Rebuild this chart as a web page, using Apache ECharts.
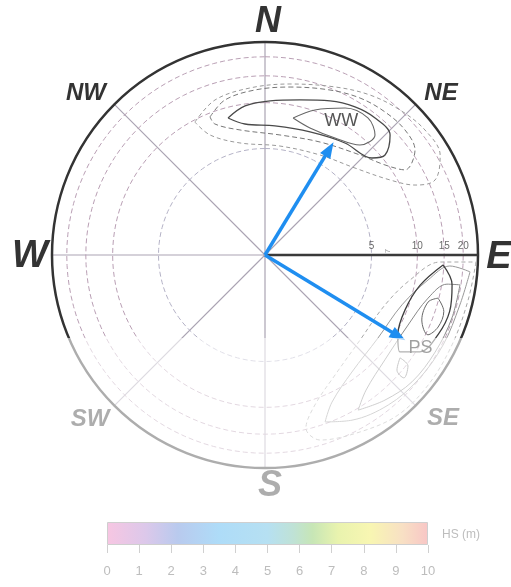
<!DOCTYPE html>
<html>
<head>
<meta charset="utf-8">
<script src="https://cdn.jsdelivr.net/npm/echarts@6/dist/echarts.min.js"></script>
<style>
  html, body { margin: 0; padding: 0; background: #fff; }
  #chart { width: 511px; height: 587px; }
</style>
</head>
<body>
<div id="chart"></div>
<script>
// Period rings (s) and their labels along the east spoke
const ringPeriods = [5, 10, 15, 20];
const ringLabels = ['5', '10', '15', '20'];
const extraLabelPeriod = 7;
const extraLabel = '7';

// Mean direction (deg from N, clockwise) and period (s) of each wave system
const systemNames = ['WW', 'PS'];
const systemDirections = [31.3, 121.3];
const systemPeriods = [6.5, 10.6];

// Spectral energy contours, points as [period (s), direction (deg)]
const wwContour1 = [[8.27, 11.6], [10.16, 19.0], [12.55, 28.6], [13.33, 36.9], [11.71, 42.5], [8.99, 40.8], [7.85, 30.9], [7.66, 19.5], [8.27, 11.6]];
const wwContour2 = [[8.54, 344.9], [9.70, 352.4], [10.27, 1.9], [11.04, 12.7], [12.52, 22.9], [13.71, 31.3], [14.23, 38.8], [13.72, 46.2], [10.60, 50.2], [8.87, 47.8], [8.00, 35.5], [7.24, 20.1], [7.07, 4.4], [7.41, 351.3], [8.54, 344.9]];
const wwContour3 = [[9.45, 338.3], [11.24, 345.5], [12.16, 356.5], [13.02, 8.5], [14.58, 21.5], [16.01, 31.2], [16.80, 40.0], [17.06, 48.2], [15.91, 55.0], [11.89, 58.7], [9.65, 53.1], [8.04, 43.5], [6.68, 26.0], [6.22, 7.1], [6.87, 348.7], [8.32, 339.1], [9.45, 338.3]];
const wwContour4 = [[9.69, 332.2], [11.72, 342.1], [12.61, 354.9], [13.62, 8.3], [15.66, 22.6], [18.03, 33.3], [19.97, 43.0], [21.5, 52.0], [21.05, 60.3], [16.58, 66.2], [12.2, 65.0], [9.05, 59.0], [6.63, 46.0], [5.61, 28.8], [5.27, 7.8], [5.67, 347.4], [7.35, 335.4], [9.69, 332.2]];

const psContour1 = [[24.3, 91.9], [23.2, 102.5], [23.0, 115.7], [23.4, 128.6], [23.2, 140.3], [20.8, 151.8], [18.5, 163.4], [14.7, 166.7], [10.9, 161.6], [8.16, 149.7], [6.87, 131.8], [7.13, 112.6], [9.24, 99.8], [14.1, 92.3], [24.3, 91.9]];
const psContour2 = [[22.4, 94.7], [20.9, 104.4], [20.4, 116.8], [19.8, 129.2], [18.8, 140.6], [16.8, 152.2], [14.6, 160.2], [11.5, 155.5], [9.05, 143.4], [8.32, 126.3], [9.05, 110.0], [12.1, 98.7], [16.4, 93.4], [22.4, 94.7]];
const psContour3 = [[19.7, 98.7], [19.7, 108.6], [19.3, 119.7], [18.8, 130.8], [17.2, 140.4], [15.4, 149.0], [12.8, 143.2], [11.1, 131.2], [11.1, 116.1], [12.8, 104.8], [16.2, 99.1], [19.7, 98.7]];
const psContour4 = [[14.8, 93.2], [17.5, 99.0], [18.5, 107.0], [17.8, 114.6], [15.8, 122.0], [12.3, 125.7], [10.4, 121.0], [9.71, 111.4], [10.9, 101.0], [14.8, 93.2]];
const psContour5 = [[14.8, 104.0], [17.0, 107.5], [17.0, 112.6], [15.5, 116.1], [13.0, 112.5], [13.0, 106.1], [14.8, 104.0]];
const psContour6 = [[13.0, 127.3], [15.4, 127.8], [16.5, 131.5], [14.1, 131.1], [13.0, 127.3]];

// Significant wave height colour scale
const hsTicks = [0, 1, 2, 3, 4, 5, 6, 7, 8, 9, 10];
const hsStopValues = [0, 1.2, 2.2, 3.5, 5.0, 5.8, 6.4, 7.2, 8.2, 9.2, 10];
const hsStopColors = ['#f7c6e2', '#dcc8ea', '#b9caee', '#aedcf8', '#b6e0f2', '#bfe2d6', '#c7e6b6', '#e9f3ae', '#f8f6b2', '#f8e0c4', '#f8c6c6'];

const chart = echarts.init(document.getElementById('chart'), null, { renderer: 'canvas' });

function ring(period) {
  const pts = [];
  for (let a = 0; a <= 360; a += 3) pts.push([period, a]);
  return pts;
}

function contour(data, color, width, type, z) {
  return {
    type: 'line', coordinateSystem: 'polar', data: data,
    smooth: 0.35, showSymbol: false, symbol: 'none', silent: true, z: z || 3,
    lineStyle: { color: color, width: width, type: type || 'solid' }
  };
}

const series = [];

// period rings
ringPeriods.forEach((p, i) => {
  series.push({
    type: 'line', coordinateSystem: 'polar', data: ring(p),
    showSymbol: false, symbol: 'none', silent: true, z: 1,
    lineStyle: { color: i === 0 ? '#b4b2c6' : '#b99fb4', width: 1, type: [5, 3] }
  });
});

// heavy east spoke
series.push({
  type: 'line', coordinateSystem: 'polar', data: [[1, 90], [25, 90]],
  showSymbol: false, symbol: 'none', silent: true, z: 4,
  lineStyle: { color: '#3a3a3a', width: 2.5 }
});

// ring labels on the east spoke
series.push({
  type: 'scatter', coordinateSystem: 'polar', symbolSize: 0, silent: true, z: 6,
  data: ringPeriods.map((p, i) => ({ value: [p, 90], label: { formatter: ringLabels[i] } }))
    .concat([{ value: [extraLabelPeriod, 90], label: { formatter: extraLabel, rotate: 90, fontSize: 8, color: '#888', offset: [0, -2] } }]),
  label: {
    show: true, position: 'top', distance: 4,
    fontFamily: 'Liberation Sans', fontSize: 10, color: '#444'
  }
});

// wind sea contours
series.push(contour(wwContour4, '#9a9a9a', 1, [4, 3]));
series.push(contour(wwContour3, '#777', 1, [5, 3]));
series.push(contour(wwContour2, '#4a4a4a', 1.3));
series.push(contour(wwContour1, '#666', 1.1));

// primary swell contours
series.push(contour(psContour1, '#a8a8a8', 1, [4, 3]));
series.push(contour(psContour2, '#999', 1));
series.push(contour(psContour3, '#888', 1));
series.push(contour(psContour4, '#3e3e3e', 1.3));
series.push(contour(psContour5, '#666', 1));
series.push(contour(psContour6, '#777', 1));

// mean direction arrows
const labelOffsets = [[12, -28], [22, 12]];
const labelColors = ['#555', '#111'];
systemNames.forEach((name, i) => {
  const d = systemDirections[i];
  series.push({
    type: 'line', coordinateSystem: 'polar', silent: true, z: 8,
    symbol: 'none',
    lineStyle: { color: '#1f8ef0', width: 3.5 },
    data: [
      [1, d],
      {
        value: [systemPeriods[i], d],
        symbol: 'triangle', symbolSize: [12, 16], symbolRotate: -d,
        itemStyle: { color: '#1f8ef0' },
        label: {
          show: true, formatter: name, position: 'inside', offset: labelOffsets[i],
          fontFamily: 'Liberation Sans', fontSize: 18, color: labelColors[i]
        }
      }
    ]
  });
});

// colour bar for HS
series.push({
  type: 'bar', xAxisIndex: 0, yAxisIndex: 0, silent: true, barWidth: '100%',
  data: [10],
  itemStyle: {
    borderColor: '#cfcfcf', borderWidth: 1,
    color: new echarts.graphic.LinearGradient(0, 0, 1, 0,
      hsStopValues.map((v, i) => ({ offset: v / 10, color: hsStopColors[i] })))
  }
});

const compassFont = (size) => 'italic bold ' + size + 'px "Liberation Sans", Arial, sans-serif';
function compass(text, x, y, size) {
  return {
    type: 'text', z: 50, silent: true,
    style: { text: text, x: x, y: y, font: compassFont(size), fill: '#333', align: 'center', verticalAlign: 'middle' }
  };
}

chart.setOption({
  animation: false,
  polar: { center: [265, 255], radius: 213 },
  angleAxis: {
    type: 'value', min: 0, max: 360, interval: 45, startAngle: 90, clockwise: true,
    axisLine: { show: true, lineStyle: { color: '#333', width: 2.5 } },
    axisTick: { show: false }, axisLabel: { show: false },
    splitLine: { show: true, lineStyle: { color: '#aba4b3', width: 1.2 } }
  },
  radiusAxis: {
    type: 'log', logBase: 10, min: 1, max: 25,
    axisLine: { show: false }, axisTick: { show: false }, axisLabel: { show: false },
    splitLine: { show: false }
  },
  grid: { left: 107, top: 522, width: 321, height: 23 },
  xAxis: {
    type: 'value', min: 0, max: 10, interval: 1,
    axisLine: { show: false },
    axisTick: { show: true, length: 8, lineStyle: { color: '#d0d0d0' } },
    splitLine: { show: false },
    axisLabel: { margin: 20, color: '#bdbdbd', fontSize: 13, fontFamily: 'Liberation Sans' }
  },
  yAxis: { type: 'category', data: ['HS'], show: false },
  series: series,
  graphic: [
    compass('N', 268, 22, 36),
    compass('NW', 86, 93, 24),
    compass('NE', 441, 93, 24),
    compass('W', 30, 257, 38),
    compass('E', 499, 258, 38),
    compass('SW', 90, 419, 24),
    compass('SE', 443, 418, 24),
    compass('S', 270, 486, 36),
    {
      type: 'text', z: 50, silent: true,
      style: { text: 'HS (m)', x: 442, y: 535, font: '12px "Liberation Sans", Arial, sans-serif', fill: '#bdbdbd', align: 'left', verticalAlign: 'middle' }
    },
    {
      // washed-out lower band of the plot
      type: 'rect', z: 100, silent: true,
      shape: { x: 0, y: 338, width: 511, height: 172 },
      style: { fill: 'rgba(255,255,255,0.6)' }
    }
  ]
});
</script>
</body>
</html>
